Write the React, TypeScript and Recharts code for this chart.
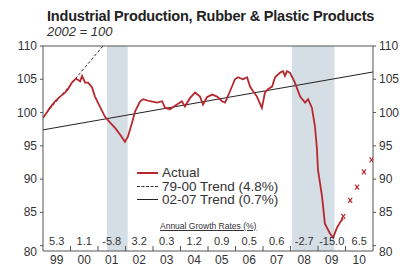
import {
  ComposedChart,
  Line,
  Scatter,
  XAxis,
  YAxis,
  ReferenceArea,
  ReferenceLine,
} from 'recharts';

// monthly-ish readings of the actual index (decimal year, value)
const actualYears = [
  1999.0, 1999.1, 1999.25, 1999.44, 1999.62, 1999.8, 1999.91, 2000.05, 2000.2, 2000.35, 2000.42,
  2000.53, 2000.64, 2000.78, 2000.89, 2001.07, 2001.25, 2001.44, 2001.62, 2001.8, 2001.98, 2002.09,
  2002.24, 2002.35, 2002.53, 2002.64, 2002.89, 2003.15, 2003.33, 2003.44, 2003.62, 2003.87, 2004.05,
  2004.16, 2004.35, 2004.53, 2004.71, 2004.82, 2004.96, 2005.15, 2005.33, 2005.51, 2005.62, 2005.8,
  2005.98, 2006.09, 2006.27, 2006.42, 2006.53, 2006.64, 2006.78, 2006.96, 2007.07, 2007.18, 2007.33,
  2007.44, 2007.62, 2007.73, 2007.8, 2007.87, 2007.98, 2008.16, 2008.35, 2008.53, 2008.64, 2008.78,
  2008.89, 2008.96, 2009.0, 2009.15, 2009.25, 2009.44, 2009.55, 2009.69, 2009.8, 2009.91,
];
const actualValues = [
  99.2, 99.8, 100.7, 101.7, 102.4, 103.0, 103.5, 104.5, 105.1, 104.7, 105.5,
  104.5, 104.5, 103.8, 102.4, 100.9, 99.4, 98.5, 97.7, 96.7, 95.6, 96.4,
  98.5, 100.2, 101.7, 102.0, 101.7, 101.5, 101.7, 100.7, 100.5, 101.2, 101.7,
  100.9, 102.2, 103.0, 102.4, 101.2, 102.3, 102.7, 102.4, 101.7, 101.5, 103.2,
  105.0, 105.3, 105.0, 105.3, 103.9, 103.2, 102.4, 100.7, 103.0, 103.5, 103.9,
  105.3, 106.0, 106.2, 105.5, 106.2, 106.0, 104.5, 102.4, 101.5, 102.0, 100.7,
  97.9, 94.6, 91.4, 87.3, 83.3, 81.8, 81.2, 82.7, 83.5, 84.1,
];

const forecastYears = [2009.92, 2010.17, 2010.42, 2010.67, 2010.95];
const forecastValues = [84.4, 86.8, 88.8, 91.1, 92.9];

const trend7900Years = [1999.0, 2001.18];
const trend7900Values = [99.3, 110];
const trend0207Years = [1999.0, 2011.0];
const trend0207Values = [97.4, 106.1];

const recessions = [
  [2001.33, 2002.08],
  [2008.05, 2009.6],
];

const yearTicks = [1999, 2000, 2001, 2002, 2003, 2004, 2005, 2006, 2007, 2008, 2009, 2010];
const yearLabels = ['99', '00', '01', '02', '03', '04', '05', '06', '07', '08', '09', '10'];
const growthRates = ['5.3', '1.1', '-5.8', '3.2', '0.3', '1.2', '0.9', '0.5', '0.6', '-2.7', '-15.0', '6.5'];
const yTicks = [80, 85, 90, 95, 100, 105, 110];

const actual = actualYears.map((x, i) => ({ x, v: actualValues[i] }));
const forecast = forecastYears.map((x, i) => ({ x, v: forecastValues[i] }));
const trend7900 = trend7900Years.map((x, i) => ({ x, v: trend7900Values[i] }));
const trend0207 = trend0207Years.map((x, i) => ({ x, v: trend0207Values[i] }));

const RED = '#b7282e';
const INK = '#333';
const FONT = 'Liberation Sans, Arial, sans-serif';
const YEAR_W = 330 / 12;
const Y_MIN = 79.2;

function YearTick(props: any) {
  const { x, y, payload } = props;
  const i = yearTicks.indexOf(payload.value);
  return (
    <g fontFamily={FONT}>
      {i > 0 && <line x1={x} x2={x} y1={y} y2={y - 5} stroke="#555" />}
      <text x={x + YEAR_W / 2} y={y - 6} textAnchor="middle" fontSize={11} fill={INK}>
        {growthRates[i]}
      </text>
      <text x={x + YEAR_W / 2} y={y + 13} textAnchor="middle" fontSize={12} fill={INK}>
        {yearLabels[i]}
      </text>
    </g>
  );
}

function ValueTick(props: any) {
  const { x, y, payload, textAnchor } = props;
  const low = payload.value === 80 ? 6 : 0;
  return (
    <text x={x} y={y + low} dy={4} textAnchor={textAnchor} fontSize={12} fill={INK} fontFamily={FONT}>
      {payload.value}
    </text>
  );
}

function XMark(props: any) {
  const { cx, cy } = props;
  return (
    <g stroke={RED} strokeWidth={1.2}>
      <line x1={cx - 2} y1={cy - 2.5} x2={cx + 2} y2={cy + 2.5} />
      <line x1={cx + 2} y1={cy - 2.5} x2={cx - 2} y2={cy + 2.5} />
    </g>
  );
}

const legendItems = [
  { label: 'Actual', color: RED, dash: false, w: 2 },
  { label: '79-00 Trend (4.8%)', color: INK, dash: true, w: 1 },
  { label: '02-07 Trend (0.7%)', color: '#222', dash: false, w: 1 },
];

export default function App() {
  return (
    <div style={{ position: 'absolute', left: 0, top: 0, width: 412, height: 271, background: '#fff', fontFamily: FONT }}>
      <div style={{ position: 'absolute', left: 47, top: 8, fontSize: 14.5, fontWeight: 700, color: '#222', letterSpacing: -0.2, whiteSpace: 'nowrap' }}>
        Industrial Production, Rubber &amp; Plastic Products
      </div>
      <div style={{ position: 'absolute', left: 47, top: 24, fontSize: 13, fontStyle: 'italic', color: INK }}>
        2002 = 100
      </div>
      <ComposedChart width={412} height={271} margin={{ top: 46, right: 0, left: 0, bottom: 0 }}>
        <XAxis
          type="number"
          dataKey="x"
          domain={[1999, 2011]}
          ticks={yearTicks}
          interval={0}
          allowDataOverflow
          height={20}
          tickSize={0}
          tickMargin={0}
          tick={<YearTick />}
          axisLine={{ stroke: '#555' }}
          tickLine={false}
        />
        <YAxis
          yAxisId="left"
          domain={[Y_MIN, 110]}
          ticks={yTicks}
          interval={0}
          allowDataOverflow
          width={43}
          tickSize={3}
          tickMargin={3}
          tick={<ValueTick />}
          axisLine={{ stroke: '#555' }}
          tickLine={{ stroke: '#555' }}
        />
        <YAxis
          yAxisId="right"
          orientation="right"
          domain={[Y_MIN, 110]}
          ticks={yTicks}
          interval={0}
          allowDataOverflow
          width={39}
          tickSize={3}
          tickMargin={3}
          tick={<ValueTick />}
          axisLine={{ stroke: '#555' }}
          tickLine={{ stroke: '#555' }}
        />
        {recessions.map(([a, b]) => (
          <ReferenceArea key={a} yAxisId="left" x1={a} x2={b} y1={Y_MIN} y2={110} fill="#d5dde5" fillOpacity={1} stroke="none" />
        ))}
        <ReferenceLine yAxisId="left" y={110} stroke="#555" />
        <Line yAxisId="left" data={trend0207} dataKey="v" stroke="#222" strokeWidth={1} dot={false} isAnimationActive={false} />
        <Line
          yAxisId="left"
          data={trend7900}
          dataKey="v"
          stroke={INK}
          strokeWidth={1}
          strokeDasharray="3 2"
          dot={false}
          isAnimationActive={false}
        />
        <Line yAxisId="left" data={actual} dataKey="v" stroke={RED} strokeWidth={1.8} dot={false} isAnimationActive={false} />
        <Scatter yAxisId="left" data={forecast} dataKey="v" shape={<XMark />} isAnimationActive={false} />
      </ComposedChart>
      <div style={{ position: 'absolute', left: 137, top: 166, fontSize: 13.5, color: INK, lineHeight: '13.5px' }}>
        {legendItems.map((it) => (
          <div key={it.label} style={{ display: 'flex', alignItems: 'center', whiteSpace: 'nowrap' }}>
            <span
              style={{
                display: 'inline-block',
                width: 21,
                marginRight: 4,
                borderTop: `${it.w}px ${it.dash ? 'dashed' : 'solid'} ${it.color}`,
              }}
            />
            {it.label}
          </div>
        ))}
      </div>
      <div
        style={{
          position: 'absolute',
          left: 160,
          top: 221,
          fontSize: 8.5,
          color: INK,
          textDecoration: 'underline',
          whiteSpace: 'nowrap',
        }}
      >
        Annual Growth Rates (%)
      </div>
    </div>
  );
}
